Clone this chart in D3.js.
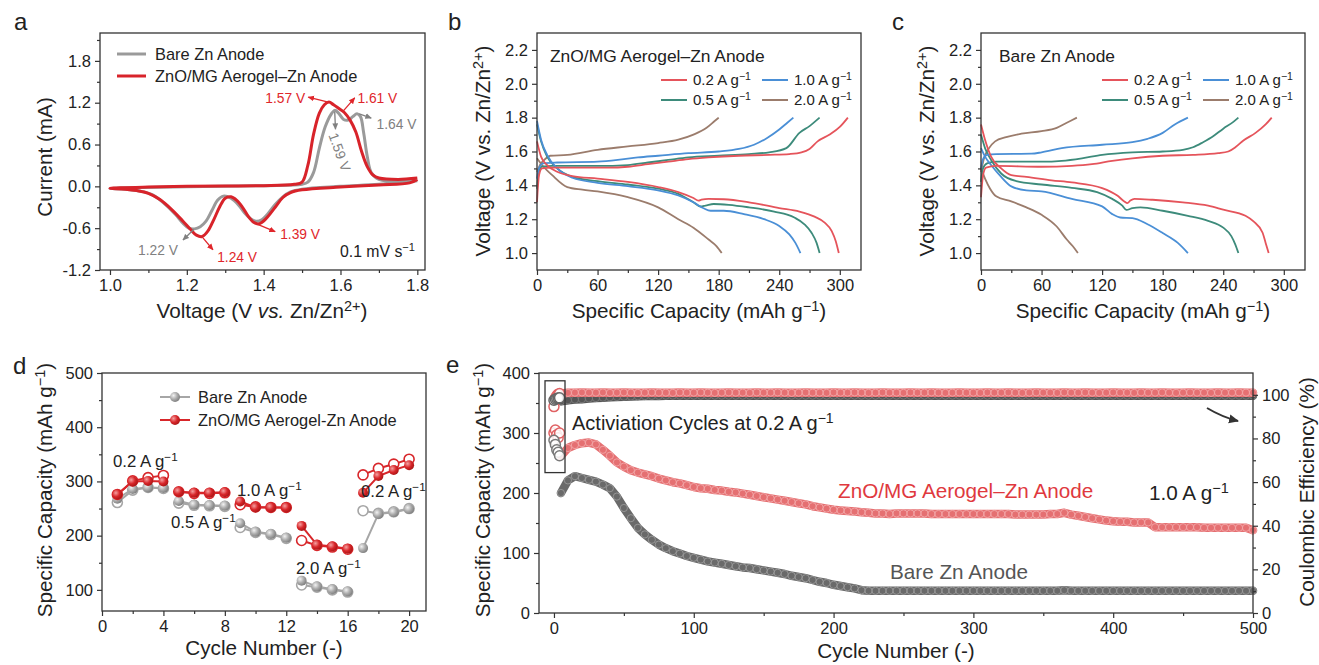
<!DOCTYPE html>
<html>
<head>
<meta charset="utf-8">
<script src="https://cdn.jsdelivr.net/npm/d3@7"></script>
<style>
  body { margin: 0; background: #fff; }
  svg { display: block; }
</style>
</head>
<body>
<svg id="chart" width="1319" height="665"></svg>
<script>
// ---------- data ----------
// a: cyclic voltammetry, [voltage, current mA]
const cvBare = [[1.80,0.08],[1.70,0.03],[1.60,0.0],[1.50,-0.04],[1.47,-0.08],[1.45,-0.15],[1.43,-0.26],[1.41,-0.40],[1.395,-0.48],[1.38,-0.50],[1.365,-0.46],[1.35,-0.38],[1.335,-0.27],[1.315,-0.17],[1.295,-0.14],[1.28,-0.20],[1.265,-0.35],[1.25,-0.50],[1.235,-0.58],[1.22,-0.61],[1.205,-0.60],[1.19,-0.53],[1.17,-0.40],[1.14,-0.24],[1.11,-0.12],[1.08,-0.07],[1.04,-0.04],[1.00,-0.03],
  [1.05,-0.02],[1.20,-0.005],[1.40,0.01],[1.50,0.03],[1.515,0.06],[1.53,0.2],[1.545,0.55],[1.56,0.85],[1.575,1.03],[1.585,1.09],[1.595,1.05],[1.608,0.96],[1.62,0.95],[1.632,1.0],[1.643,1.04],[1.652,1.0],[1.66,0.78],[1.67,0.42],[1.68,0.2],[1.70,0.1],[1.75,0.07],[1.80,0.08]];
const cvAerogel = [[1.80,0.10],[1.78,0.05],[1.70,0.02],[1.60,-0.01],[1.50,-0.05],[1.47,-0.09],[1.45,-0.16],[1.43,-0.30],[1.41,-0.44],[1.395,-0.52],[1.385,-0.54],[1.375,-0.52],[1.36,-0.43],[1.345,-0.30],[1.33,-0.20],[1.315,-0.15],[1.30,-0.17],[1.285,-0.30],[1.27,-0.48],[1.255,-0.64],[1.24,-0.72],[1.225,-0.70],[1.21,-0.62],[1.19,-0.50],[1.16,-0.33],[1.13,-0.19],[1.10,-0.10],[1.07,-0.06],[1.04,-0.04],[1.00,-0.03],
  [1.03,-0.02],[1.10,-0.01],[1.20,0.0],[1.30,0.005],[1.40,0.01],[1.48,0.03],[1.50,0.06],[1.515,0.3],[1.53,0.75],[1.545,1.05],[1.558,1.17],[1.57,1.21],[1.582,1.17],[1.595,1.12],[1.61,1.06],[1.625,0.95],[1.64,0.78],[1.655,0.5],[1.67,0.28],[1.685,0.16],[1.70,0.12],[1.75,0.1],[1.80,0.12]];

// b: ZnO/MG aerogel-Zn anode, [capacity, voltage]
const bCharge02 = [[0,1.30],[2,1.46],[5,1.50],[15,1.505],[40,1.505],[70,1.505],[90,1.51],[110,1.525],[130,1.54],[150,1.555],[170,1.565],[200,1.575],[230,1.58],[250,1.585],[262,1.595],[270,1.615],[278,1.66],[290,1.70],[300,1.745],[308,1.80]];
const bDis02 = [[0,1.66],[4,1.57],[10,1.52],[20,1.48],[35,1.455],[60,1.44],[90,1.42],[120,1.39],[140,1.36],[155,1.325],[160,1.31],[163,1.315],[170,1.32],[185,1.318],[210,1.30],[240,1.266],[260,1.245],[275,1.215],[285,1.18],[292,1.13],[296,1.07],[299,1.0]];
const bCharge05 = [[0,1.38],[2,1.48],[5,1.51],[15,1.515],[60,1.515],[90,1.52],[110,1.535],[130,1.55],[150,1.565],[180,1.575],[210,1.585],[230,1.595],[247,1.62],[260,1.71],[270,1.75],[280,1.80]];
const bDis05 = [[0,1.76],[4,1.66],[10,1.57],[20,1.50],[35,1.45],[60,1.425],[90,1.405],[120,1.38],[140,1.35],[155,1.30],[162,1.275],[167,1.28],[175,1.29],[190,1.285],[210,1.27],[235,1.245],[255,1.21],[265,1.17],[272,1.12],[277,1.06],[280,1.0]];
const bCharge10 = [[0,1.44],[2,1.50],[6,1.53],[20,1.535],[60,1.54],[80,1.55],[100,1.565],[120,1.575],[150,1.59],[180,1.60],[200,1.615],[215,1.64],[228,1.68],[240,1.73],[248,1.77],[254,1.80]];
const bDis10 = [[0,1.78],[4,1.67],[10,1.58],[20,1.50],[35,1.445],[60,1.415],[90,1.395],[120,1.37],[140,1.34],[155,1.30],[165,1.265],[172,1.25],[185,1.25],[205,1.23],[225,1.20],[240,1.16],[250,1.11],[256,1.06],[261,1.0]];
const bCharge20 = [[0,1.48],[3,1.52],[8,1.555],[13,1.575],[30,1.58],[60,1.61],[90,1.63],[120,1.65],[140,1.67],[155,1.70],[168,1.74],[176,1.78],[180,1.80]];
const bDis20 = [[0,1.56],[5,1.52],[15,1.46],[30,1.39],[45,1.375],[60,1.364],[90,1.33],[120,1.27],[140,1.20],[155,1.15],[170,1.08],[178,1.04],[183,1.0]];

// c: bare Zn anode
const cCharge02 = [[0,1.33],[2,1.46],[5,1.505],[15,1.515],[60,1.51],[90,1.515],[110,1.525],[130,1.545],[150,1.56],[180,1.575],[210,1.58],[235,1.59],[245,1.60],[252,1.625],[260,1.665],[272,1.71],[282,1.76],[288,1.80]];
const cDis02 = [[0,1.76],[4,1.67],[10,1.57],[20,1.50],[30,1.46],[45,1.45],[70,1.43],[90,1.417],[120,1.384],[135,1.34],[142,1.305],[145,1.295],[148,1.31],[152,1.32],[170,1.315],[200,1.30],[225,1.28],[240,1.256],[262,1.22],[270,1.187],[279,1.12],[282,1.06],[285,1.0]];
const cCharge05 = [[0,1.42],[2,1.50],[6,1.53],[15,1.54],[60,1.54],[80,1.545],[100,1.56],[120,1.58],[150,1.595],[180,1.60],[200,1.61],[210,1.625],[220,1.655],[230,1.69],[240,1.735],[250,1.775],[255,1.80]];
const cDis05 = [[0,1.70],[4,1.62],[10,1.55],[20,1.47],[35,1.425],[60,1.405],[90,1.385],[115,1.36],[130,1.32],[140,1.28],[144,1.255],[150,1.265],[158,1.27],[180,1.25],[205,1.22],[225,1.19],[240,1.15],[248,1.10],[252,1.05],[255,1.0]];
const cCharge10 = [[0,1.50],[2,1.555],[6,1.58],[15,1.585],[50,1.587],[60,1.595],[80,1.62],[120,1.64],[150,1.655],[165,1.675],[180,1.71],[192,1.76],[205,1.80]];
const cDis10 = [[0,1.62],[4,1.57],[10,1.52],[20,1.45],[30,1.394],[45,1.37],[60,1.364],[90,1.32],[120,1.276],[130,1.23],[138,1.21],[150,1.207],[165,1.17],[180,1.118],[195,1.06],[205,1.0]];
const cCharge20 = [[0,1.48],[3,1.56],[8,1.62],[14,1.66],[25,1.685],[40,1.705],[60,1.72],[75,1.74],[85,1.77],[95,1.80]];
const cDis20 = [[0,1.50],[4,1.44],[9,1.38],[15,1.335],[30,1.305],[45,1.27],[60,1.226],[75,1.157],[85,1.08],[91,1.04],[96,1.0]];

// d: rate performance, cycles 1-20
const rateCycles = [1,2,3,4,5,6,7,8,9,10,11,12,13,14,15,16,17,18,19,20];
const rateBlocks = [[1,4],[5,8],[9,12],[13,16],[17,20]];
const dBareFull = [268,286,289,288,264,257,256,255,223,207,203,196,117,106,101,97,177,240,243,249];
const dBareOpen = [261,284,289,287,260,256,255,254,215,206,202,195,109,105,100,96,246,241,244,250];
const dAeroFull = [276,300,301,300,281,279,279,280,263,252,252,252,218,183,180,176,279,310,321,330];
const dAeroOpen = [276,301,307,311,281,278,278,279,257,253,252,252,191,182,179,175,312,324,332,341];

// e: long cycling at 1.0 A/g (every 5th cycle) + activation cycles
const eActCycles = [0,1,2,3,4];
const eActAeroCap = [300,305,297,292,300];
const eActBareCap = [288,281,272,268,262];
const eActAeroCE = [94.6,98.5,99.6,100.3,100.6];
const eActBareCE = [97.5,98.0,98.3,98.5,98.6];
const eCycles = d3.range(5, 501, 5);
const eAeroCap = [262,275,280,283,284,281,272,262,251,244,
  238,234,231,228,224,221,218,216,213,210,
  208,207,205,204,202,201,199,197,195,193,
  191,189,187,185,183,181,178,176,174,172,
  171,170,169,168,167,166,166,165,166,166,
  166,166,166,165,165,165,165,165,165,165,
  165,165,165,165,165,164,164,164,164,164,
  165,165,167,164,162,160,158,156,154,153,
  152,152,151,151,151,143,143,143,143,143,
  143,143,142,142,142,142,142,142,142,138];
const eBareCap = [200,221,228,225,222,219,214,208,194,175,
  158,142,131,122,114,108,103,99,95,92,
  89,86,84,82,80,78,76,75,73,71,
  69,67,65,62,60,58,55,52,50,47,
  45,43,41,38,37,37,37,37,37,37,
  37,37,37,37,37,37,37,37,37,37,
  37,37,37,37,37,37,37,37,37,37,
  37,37,38,37,37,37,37,37,37,37,
  37,37,37,37,37,37,37,37,37,37,
  37,37,37,37,37,37,37,37,37,37];
const eAeroCE = [100.6,100.9,101.0,101.1,101.0,101.0,101.1,100.9,101.0,101.1,
  101.0,100.9,101.0,101.1,101.0,101.0,100.9,101.1,101.0,101.0,
  101.1,101.0,100.9,101.0,101.1,101.0,101.0,100.9,101.1,101.0,
  101.0,101.1,101.0,100.9,101.0,101.1,101.0,101.0,100.9,101.1,
  101.0,101.0,101.1,101.0,100.9,101.0,101.1,101.0,101.0,100.9,
  101.1,101.0,101.0,101.1,101.0,100.9,101.0,101.1,101.0,101.0,
  100.9,101.1,101.0,101.0,101.1,101.0,100.9,101.0,101.1,101.0,
  101.0,100.9,101.1,101.0,101.0,101.1,101.0,100.9,101.0,101.1,
  101.0,101.0,100.9,101.1,101.0,101.0,101.1,101.0,100.9,101.0,
  101.1,101.0,101.0,100.9,101.1,101.0,101.0,101.1,101.0,101.0];
const eBareCE = [97.0,97.5,97.8,98.0,98.3,98.5,98.7,98.9,99.0,99.1,
  99.2,99.3,99.4,99.5,99.5,99.6,99.6,99.6,99.6,99.6,
  99.6,99.6,99.6,99.6,99.6,99.6,99.6,99.6,99.6,99.6,
  99.6,99.6,99.6,99.6,99.6,99.6,99.6,99.6,99.6,99.6,
  99.6,99.6,99.6,99.6,99.6,99.6,99.6,99.6,99.6,99.6,
  99.6,99.6,99.6,99.6,99.6,99.6,99.6,99.6,99.6,99.6,
  99.6,99.6,99.6,99.6,99.6,99.6,99.6,99.6,99.6,99.6,
  99.6,99.6,99.6,99.6,99.6,99.6,99.6,99.6,99.6,99.6,
  99.6,99.6,99.6,99.6,99.6,99.6,99.6,99.6,99.6,99.6,
  99.6,99.6,99.6,99.6,99.6,99.6,99.6,99.6,99.6,99.6];

// ---------- setup ----------
const svg = d3.select("#chart")
  .style("font-family", "Arial, 'Liberation Sans', sans-serif");
const defs = svg.append("defs");

const RED = "#d8232a", GRAY = "#9a9a9a";
const rateColor = { "0.2": "#e5545b", "0.5": "#3d8b7b", "1.0": "#4a8fd6", "2.0": "#9b7c6c" };
const TICK = 16.5, TITLE = 20.7;

function arrowMarker(id, color) {
  defs.append("marker").attr("id", id)
    .attr("viewBox", "0 0 10 10").attr("refX", 9).attr("refY", 5)
    .attr("markerWidth", 5).attr("markerHeight", 5)
    .attr("orient", "auto")
    .append("path").attr("d", "M0,0.5 L10,5 L0,9.5 z").attr("fill", color);
}
arrowMarker("arRed", "#e0262b");
arrowMarker("arGray", "#808080");
arrowMarker("arDark", "#333");

function sphere(id, hi, mid, lo) {
  const gr = defs.append("radialGradient").attr("id", id)
    .attr("cx", "35%").attr("cy", "35%").attr("r", "70%");
  gr.append("stop").attr("offset", "0%").attr("stop-color", hi);
  gr.append("stop").attr("offset", "55%").attr("stop-color", mid);
  gr.append("stop").attr("offset", "100%").attr("stop-color", lo);
}
sphere("sRed", "#f5a0a0", "#d8262a", "#a81515");
sphere("sGray", "#f2f2f2", "#aaaaaa", "#7c7c7c");

// text with ^{sup} and *italic* pieces
function rich(t, str) {
  const parts = str.split(/(\^\{[^}]*\}|\*[^*]*\*)/).filter(s => s);
  parts.forEach((s, i) => {
    const sp = t.append("tspan");
    if (s.startsWith("^{")) {
      sp.attr("dy", "-0.5em").attr("font-size", "0.7em").text(s.slice(2, -1));
    } else {
      if (i > 0 && parts[i - 1].startsWith("^{")) sp.attr("dy", "0.35em");
      if (s.startsWith("*")) sp.attr("font-style", "italic").text(s.slice(1, -1));
      else sp.text(s);
    }
  });
  return t;
}

function label(x, y, str, size, opts = {}) {
  const t = svg.append("text")
    .attr("x", x).attr("y", y)
    .attr("font-size", size)
    .attr("fill", opts.color || "#222")
    .attr("text-anchor", opts.anchor || "start");
  if (opts.rotate != null) t.attr("transform", `rotate(${opts.rotate},${x},${y})`);
  if (opts.dy) t.attr("dy", opts.dy);
  return rich(t, str);
}

function axes(x, y, o) {
  const [x0, x1] = x.range(), [yb, yt] = y.range();
  const g = svg.append("g");
  const style = s => {
    s.select(".domain").remove();
    s.attr("font-size", null).attr("font-family", null);
    s.selectAll("line").attr("stroke", "#333").attr("stroke-width", 1.2);
    s.selectAll("text").attr("fill", "#222").style("font-size", TICK + "px");
  };
  g.append("g").attr("transform", `translate(0,${yb})`)
    .call(d3.axisBottom(x).tickValues(o.xMinor).tickSize(3).tickFormat("")).call(style);
  g.append("g").attr("transform", `translate(0,${yb})`)
    .call(d3.axisBottom(x).tickValues(o.xTicks).tickSize(5).tickPadding(4).tickFormat(o.xFmt)).call(style);
  g.append("g").attr("transform", `translate(${x0},0)`)
    .call(d3.axisLeft(y).tickValues(o.yMinor).tickSize(3).tickFormat("")).call(style);
  g.append("g").attr("transform", `translate(${x0},0)`)
    .call(d3.axisLeft(y).tickValues(o.yTicks).tickSize(5).tickPadding(4).tickFormat(o.yFmt)).call(style);
  if (o.yR) {
    g.append("g").attr("transform", `translate(${x1},0)`)
      .call(d3.axisRight(o.yR).tickValues(o.yRMinor).tickSize(3).tickFormat("")).call(style);
    g.append("g").attr("transform", `translate(${x1},0)`)
      .call(d3.axisRight(o.yR).tickValues(o.yRTicks).tickSize(5).tickPadding(4)).call(style);
  }
  g.append("rect")
    .attr("x", x0).attr("y", yt)
    .attr("width", x1 - x0).attr("height", yb - yt)
    .attr("fill", "none").attr("stroke", "#333").attr("stroke-width", 1.3);
}

const f1 = d => d.toFixed(1);

// ---------- panel a ----------
{
  const x = d3.scaleLinear().domain([0.974, 1.82]).range([100, 425]);
  const y = d3.scaleLinear().domain([-1.2, 2.2]).range([270, 33]);
  const line = d3.line().x(d => x(d[0])).y(d => y(d[1])).curve(d3.curveCatmullRom.alpha(0.5));

  svg.append("path").datum(cvBare).attr("d", line)
    .attr("fill", "none").attr("stroke", GRAY).attr("stroke-width", 3);
  svg.append("path").datum(cvAerogel).attr("d", line)
    .attr("fill", "none").attr("stroke", RED).attr("stroke-width", 3);

  // peak annotations: arrow from the peak, label at the arrow head
  const cvNotes = [
    { text: "1.57 V", from: [1.568, 1.21], to: [1.516, 1.28], at: [1.508, 1.27], anchor: "end", red: true },
    { text: "1.61 V", from: [1.607, 1.08], to: [1.637, 1.27], at: [1.644, 1.27], anchor: "start", red: true },
    { text: "1.64 V", from: [1.649, 1.04], to: [1.680, 0.98], at: [1.694, 0.895], anchor: "start", red: false },
    { text: "1.59 V", from: [1.585, 1.07], to: [1.587, 0.82], at: [1.580, 0.76], anchor: "start", red: false, rotate: 70 },
    { text: "1.22 V", from: [1.218, -0.62], to: [1.190, -0.77], at: [1.177, -0.91], anchor: "end", red: false },
    { text: "1.24 V", from: [1.242, -0.74], to: [1.268, -0.91], at: [1.279, -1.01], anchor: "start", red: true },
    { text: "1.39 V", from: [1.386, -0.55], to: [1.430, -0.65], at: [1.443, -0.68], anchor: "start", red: true }
  ];
  cvNotes.forEach(n => {
    const col = n.red ? "#e0262b" : "#808080";
    svg.append("line")
      .attr("x1", x(n.from[0])).attr("y1", y(n.from[1]))
      .attr("x2", x(n.to[0])).attr("y2", y(n.to[1]))
      .attr("stroke", col).attr("stroke-width", 1.3)
      .attr("marker-end", `url(#${n.red ? "arRed" : "arGray"})`);
    label(x(n.at[0]), y(n.at[1]), n.text, 13.8,
      { color: col, anchor: n.anchor, dy: "0.35em", rotate: n.rotate });
  });

  axes(x, y, {
    xTicks: [1.0, 1.2, 1.4, 1.6, 1.8], xMinor: [1.1, 1.3, 1.5, 1.7], xFmt: f1,
    yTicks: [-1.2, -0.6, 0, 0.6, 1.2, 1.8], yMinor: [-0.9, -0.3, 0.3, 0.9, 1.5, 2.1], yFmt: f1
  });

  // legend
  [["Bare Zn Anode", GRAY, 54], ["ZnO/MG Aerogel\u2013Zn Anode", RED, 76]].forEach(([t, c, ly]) => {
    svg.append("line").attr("x1", 117).attr("x2", 146).attr("y1", ly).attr("y2", ly)
      .attr("stroke", c).attr("stroke-width", 3);
    label(155, ly, t, 16.4, { dy: "0.35em" });
  });
  label(340, 257, "0.1 mV s^{\u22121}", 15.8);

  label(45, 157, "Current (mA)", TITLE, { anchor: "middle", rotate: -90, dy: "0.35em" });
  label(262, 318, "Voltage (V *vs.* Zn/Zn^{2+})", TITLE, { anchor: "middle" });
  label(14, 30, "a", 24);
}

// ---------- panels b and c ----------
function gcdPanel(x0, x1, lx, series, name, letter, lcx) {
  const x = d3.scaleLinear().domain([0, 321]).range([x0, x1]);
  const y = d3.scaleLinear().domain([0.9, 2.3]).range([270, 33]);
  const line = d3.line().x(d => x(d[0])).y(d => y(d[1])).curve(d3.curveMonotoneX);

  series.forEach(s => {
    [s.charge, s.dis].forEach(arr => {
      svg.append("path").datum(arr).attr("d", line)
        .attr("fill", "none").attr("stroke", rateColor[s.rate]).attr("stroke-width", 1.8);
    });
  });

  axes(x, y, {
    xTicks: [0, 60, 120, 180, 240, 300], xMinor: [30, 90, 150, 210, 270], xFmt: d3.format("d"),
    yTicks: [1.0, 1.2, 1.4, 1.6, 1.8, 2.0, 2.2], yMinor: [1.1, 1.3, 1.5, 1.7, 1.9, 2.1], yFmt: f1
  });

  label(x0 + 13 + (lx || 0), 62, name, 17.4);

  const legendRates = [["0.2", 0, 0], ["1.0", 1, 0], ["0.5", 0, 1], ["2.0", 1, 1]];
  legendRates.forEach(([r, col, row]) => {
    const lx0 = lcx + col * 101, ly = 80 + row * 20;
    svg.append("line").attr("x1", lx0).attr("x2", lx0 + 26).attr("y1", ly).attr("y2", ly)
      .attr("stroke", rateColor[r]).attr("stroke-width", 2);
    label(lx0 + 32, ly, `${r} A g^{\u22121}`, 15, { dy: "0.35em" });
  });

  label(x0 - 54, 151, "Voltage (V vs. Zn/Zn^{2+})", TITLE, { anchor: "middle", rotate: -90, dy: "0.35em" });
  label((x0 + x1) / 2, 318, "Specific Capacity (mAh g^{\u22121})", TITLE, { anchor: "middle" });
  label(x0 - 89, 30, letter, 24);
}

gcdPanel(537, 861, 0, [
  { rate: "2.0", charge: bCharge20, dis: bDis20 },
  { rate: "0.5", charge: bCharge05, dis: bDis05 },
  { rate: "1.0", charge: bCharge10, dis: bDis10 },
  { rate: "0.2", charge: bCharge02, dis: bDis02 }
], "ZnO/MG Aerogel\u2013Zn Anode", "b", 661);

gcdPanel(981, 1305, 5, [
  { rate: "2.0", charge: cCharge20, dis: cDis20 },
  { rate: "0.5", charge: cCharge05, dis: cDis05 },
  { rate: "1.0", charge: cCharge10, dis: cDis10 },
  { rate: "0.2", charge: cCharge02, dis: cDis02 }
], "Bare Zn Anode", "c", 1102);

// ---------- panel d ----------
{
  const x = d3.scaleLinear().domain([0, 21.1]).range([102, 426]);
  const y = d3.scaleLinear().domain([61, 500]).range([611, 373]);
  const line = d3.line().x(d => x(d[0])).y(d => y(d[1]));

  const groups = [
    { vals: dBareOpen, color: "#a6a6a6", open: true },
    { vals: dBareFull, color: "#a6a6a6", fill: "url(#sGray)" },
    { vals: dAeroOpen, color: "#d8262a", open: true },
    { vals: dAeroFull, color: "#d8262a", fill: "url(#sRed)" }
  ];
  groups.forEach(gp => {
    const pts = rateCycles.map((c, i) => [c, gp.vals[i]]);
    rateBlocks.forEach(([a, b]) => {
      svg.append("path").datum(pts.filter(p => p[0] >= a && p[0] <= b)).attr("d", line)
        .attr("fill", "none").attr("stroke", gp.color).attr("stroke-width", 2);
    });
  });
  groups.forEach(gp => {
    svg.append("g").selectAll("circle")
      .data(rateCycles.map((c, i) => [c, gp.vals[i]]))
      .enter().append("circle")
      .attr("cx", d => x(d[0])).attr("cy", d => y(d[1])).attr("r", 5)
      .attr("fill", gp.open ? "#fff" : gp.fill)
      .attr("stroke", gp.open ? gp.color : "none").attr("stroke-width", 1.6);
  });

  axes(x, y, {
    xTicks: [0, 4, 8, 12, 16, 20], xMinor: [2, 6, 10, 14, 18], xFmt: d3.format("d"),
    yTicks: [100, 200, 300, 400, 500], yMinor: [150, 250, 350, 450], yFmt: d3.format("d")
  });

  [["Bare Zn Anode", "#a6a6a6", "url(#sGray)", 397], ["ZnO/MG Aerogel-Zn Anode", "#d8262a", "url(#sRed)", 420]]
    .forEach(([t, c, f, ly]) => {
      svg.append("line").attr("x1", 160).attr("x2", 190).attr("y1", ly).attr("y2", ly)
        .attr("stroke", c).attr("stroke-width", 2);
      svg.append("circle").attr("cx", 175).attr("cy", ly).attr("r", 5).attr("fill", f);
      label(198, ly, t, 16.4, { dy: "0.35em" });
    });

  label(113, 467, "0.2 A g^{\u22121}", 16.8);
  label(171, 528, "0.5 A g^{\u22121}", 16.8);
  label(237, 496, "1.0 A g^{\u22121}", 16.8);
  label(296, 574, "2.0 A g^{\u22121}", 16.8);
  label(361, 497, "0.2 A g^{\u22121}", 16.8);

  label(45, 490, "Specific Capacity (mAh g^{\u22121})", TITLE, { anchor: "middle", rotate: -90, dy: "0.35em" });
  label(264, 655, "Cycle Number (-)", TITLE, { anchor: "middle" });
  label(13, 374, "d", 24);
}

// ---------- panel e ----------
{
  const x = d3.scaleLinear().domain([-10.7, 500]).range([539, 1253]);
  const y = d3.scaleLinear().domain([0, 400]).range([613, 373]);
  const yR = d3.scaleLinear().domain([0, 110]).range([613, 373]);

  function band(vals, scale, bandColor, ringColor) {
    const pts = eCycles.map((c, i) => [x(c), scale(vals[i])]);
    svg.append("path").datum(pts)
      .attr("d", d3.line())
      .attr("fill", "none").attr("stroke", bandColor).attr("stroke-width", 8.5)
      .attr("stroke-linecap", "round").attr("stroke-linejoin", "round");
    svg.append("g").selectAll("circle").data(pts).enter().append("circle")
      .attr("cx", d => d[0]).attr("cy", d => d[1]).attr("r", 3.6)
      .attr("fill", "none").attr("stroke", ringColor).attr("stroke-width", 0.9);
  }
  band(eBareCE, yR, "#555", "#7a7a7a");
  band(eAeroCE, yR, "#e57072", "#f2a7a8");
  band(eBareCap, y, "#6a6a6a", "#9a9a9a");
  band(eAeroCap, y, "#e57072", "#f2a7a8");

  // activation cycles at 0.2 A/g
  const act = [
    [eActAeroCE, yR, "#e06264"], [eActBareCE, yR, "#666"],
    [eActAeroCap, y, "#e06264"], [eActBareCap, y, "#7a7a7a"]
  ];
  act.forEach(([vals, scale, col]) => {
    svg.append("g").selectAll("circle")
      .data(eActCycles.map((c, i) => [c, vals[i]]))
      .enter().append("circle")
      .attr("cx", d => x(d[0])).attr("cy", d => scale(d[1])).attr("r", 5)
      .attr("fill", "#fff").attr("fill-opacity", 0.85)
      .attr("stroke", col).attr("stroke-width", 1.5);
  });
  svg.append("rect")
    .attr("x", x(-6.4)).attr("y", y(387))
    .attr("width", x(7.9) - x(-6.4)).attr("height", y(234) - y(387))
    .attr("fill", "none").attr("stroke", "#333").attr("stroke-width", 1.3);

  axes(x, y, {
    xTicks: [0, 100, 200, 300, 400, 500], xMinor: [50, 150, 250, 350, 450], xFmt: d3.format("d"),
    yTicks: [0, 100, 200, 300, 400], yMinor: [50, 150, 250, 350], yFmt: d3.format("d"),
    yR: yR, yRTicks: [0, 20, 40, 60, 80, 100], yRMinor: [10, 30, 50, 70, 90]
  });

  // curved arrow pointing at the right axis
  svg.append("path")
    .attr("d", "M1207,408 Q1222,417 1238,421")
    .attr("fill", "none").attr("stroke", "#333").attr("stroke-width", 2)
    .attr("marker-end", "url(#arDark)");

  label(572, 430, "Activiation Cycles at 0.2 A g^{\u22121}", 20);
  label(838, 498, "ZnO/MG Aerogel\u2013Zn Anode", TITLE, { color: "#e0393e" });
  label(1149, 500, "1.0 A g^{\u22121}", TITLE);
  label(890, 579, "Bare Zn Anode", TITLE, { color: "#555" });

  label(483, 490, "Specific Capacity (mAh g^{\u22121})", TITLE, { anchor: "middle", rotate: -90, dy: "0.35em" });
  label(1307, 492, "Coulombic Efficiency (%)", TITLE, { anchor: "middle", rotate: -90, dy: "0.35em" });
  label(896, 658, "Cycle Number (-)", TITLE, { anchor: "middle" });
  label(446, 373, "e", 24);
}
</script>
</body>
</html>
